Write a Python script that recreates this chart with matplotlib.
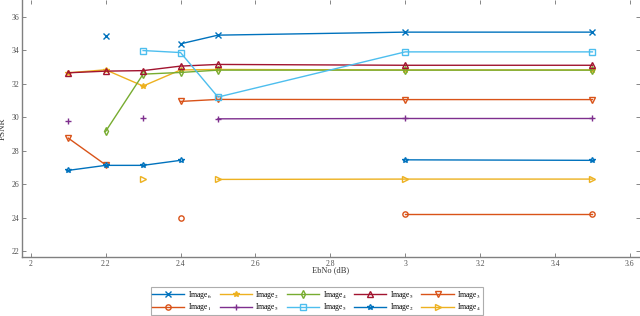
import numpy as np
import matplotlib
matplotlib.use('Agg')
import matplotlib.pyplot as plt

# EbNo (dB) em que cada imagem foi avaliada
ebno = [2.1, 2.2, 2.3, 2.4, 2.5, 3.0, 3.5]
nan = np.nan

# PSNR por imagem (nan = ponto ausente)
img6_x = [nan, 34.82, nan, 34.38, 34.90, 35.08, 35.08]
img2_ast = [32.65, 32.83, 31.86, 32.82, 32.85, 32.82, 32.82]
img4_d = [nan, 29.15, 32.57, 32.67, 32.81, 32.81, 32.81]
img5_up = [32.65, 32.75, 32.78, 33.05, 33.15, 33.10, 33.10]
img3_down = [28.75, 27.15, nan, 30.94, 31.06, 31.05, 31.05]
img1_o = [nan, nan, nan, 23.97, nan, 24.20, 24.20]
img_plus = [29.80, nan, 29.97, nan, 29.90, 29.92, 29.92]
img5_sq = [nan, nan, 33.98, 33.86, 31.20, 33.90, 33.90]
img2_star = [26.82, 27.12, 27.12, 27.42, nan, 27.45, 27.42]
img4_right = [nan, nan, 26.28, nan, 26.28, 26.30, 26.30]

labels_top = ['Image$_6$', 'Image$_2$', 'Image$_4$', 'Image$_5$', 'Image$_3$']
labels_bot = ['Image$_1$', 'Image$_5$', 'Image$_5$', 'Image$_2$', 'Image$_4$']

azul = '#0072BD'
laranja = '#D95319'
amarelo = '#EDB120'
roxo = '#7E2F8E'
verde = '#77AC30'
ciano = '#4DBEEE'
vinho = '#A2142F'

plt.rcParams['font.family'] = ['Liberation Serif', 'DejaVu Serif']
plt.rcParams['mathtext.fontset'] = 'stix'

fig = plt.figure(figsize=(6.4, 3.16), dpi=100)
ax = fig.add_axes([0.034, 0.187, 0.966, 0.813])

top = [
    (img6_x, azul, 'x', 'full'),
    (img2_ast, amarelo, '*', 'full'),
    (img4_d, verde, 'd', 'none'),
    (img5_up, vinho, '^', 'none'),
    (img3_down, laranja, 'v', 'none'),
]
bot = [
    (img1_o, laranja, 'o', 'none'),
    (img_plus, roxo, '+', 'full'),
    (img5_sq, ciano, 's', 'none'),
    (img2_star, azul, '*', 'none'),
    (img4_right, amarelo, '>', 'none'),
]

linhas_top = []
for vals, c, m, fill in top:
    kw = dict(markerfacecolor='none') if fill == 'none' else {}
    l, = ax.plot(ebno, vals, color=c, marker=m, markersize=3.8, linewidth=1.0, **kw)
    linhas_top.append(l)
linhas_bot = []
for vals, c, m, fill in bot:
    kw = dict(markerfacecolor='none') if fill == 'none' else {}
    l, = ax.plot(ebno, vals, color=c, marker=m, markersize=3.8, linewidth=1.0, **kw)
    linhas_bot.append(l)

ax.set_xlim(1.976, 3.627)
ax.set_ylim(21.65, 37.0)
ax.set_xticks([2, 2.2, 2.4, 2.6, 2.8, 3, 3.2, 3.4, 3.6])
ax.set_xticklabels(['2', '2.2', '2.4', '2.6', '2.8', '3', '3.2', '3.4', '3.6'])
ax.set_yticks([22, 24, 26, 28, 30, 32, 34, 36])
ax.tick_params(direction='in', length=3, width=0.6, colors='0.45', labelsize=5.5,
               labelcolor='0.3', top=True, right=True, pad=2)
for s in ['top', 'right']:
    ax.spines[s].set_visible(False)
for s in ['left', 'bottom']:
    ax.spines[s].set_color('0.5')
    ax.spines[s].set_linewidth(1.0)

ax.set_xlabel('EbNo (dB)', fontsize=6, color='0.2', labelpad=-1)
ax.set_ylabel('PSNR', fontsize=6.5, color='0.2', labelpad=3)

# intercala para o legend preencher por linhas
handles, labels = [], []
for a, b, la, lb in zip(linhas_top, linhas_bot, labels_top, labels_bot):
    handles += [a, b]
    labels += [la, lb]
leg = fig.legend(handles, labels, ncol=5, loc='upper center', bbox_to_anchor=(0.495, 0.103),
                 fontsize=5.5, frameon=True, fancybox=False, edgecolor='0.6',
                 handlelength=4.2, columnspacing=1.0, handletextpad=0.5,
                 labelspacing=0.05, borderpad=0.2)
leg.get_frame().set_linewidth(0.8)

fig.savefig('out.png', dpi=100)
